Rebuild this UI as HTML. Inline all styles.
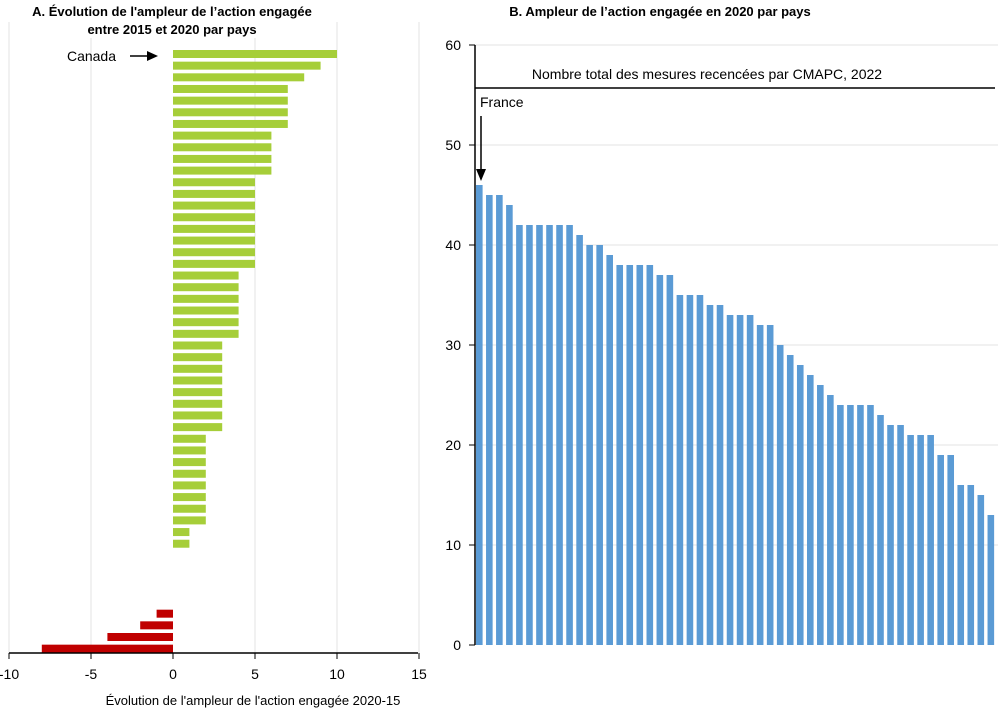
<!DOCTYPE html>
<html><head><meta charset="utf-8"><style>
body{margin:0;background:#fff;font-family:"Liberation Sans",sans-serif}
svg text{font-family:"Liberation Sans",sans-serif}
</style></head><body>
<svg id="c" width="1000" height="710" viewBox="0 0 1000 710">
<g id="ga"></g><g id="gb"></g>
<rect x="20" y="20" width="300" height="18" fill="#fff"/>
<text x="172" y="16" font-size="13" font-weight="bold" text-anchor="middle">A. Évolution de l'ampleur de l’action engagée</text>
<text x="172" y="34" font-size="13" font-weight="bold" text-anchor="middle">entre 2015 et 2020 par pays</text>
<text x="660" y="16" font-size="13" font-weight="bold" text-anchor="middle">B. Ampleur de l’action engagée en 2020 par pays</text>
<text x="253" y="705" font-size="13" text-anchor="middle">Évolution de l'ampleur de l'action engagée 2020-15</text>
<text x="116" y="61" font-size="14" text-anchor="end">Canada</text>
<line x1="130" y1="56" x2="150" y2="56" stroke="#000" stroke-width="1.5"/>
<polygon points="158,56 147,51 147,61" fill="#000"/>
<text x="707" y="79" font-size="14" text-anchor="middle">Nombre total des mesures recencées par CMAPC, 2022</text>
<text x="480" y="107" font-size="14">France</text>
<line x1="481" y1="116" x2="481" y2="170" stroke="#000" stroke-width="1.5"/>
<polygon points="481,181 476,169 486,169" fill="#000"/>
</svg>
<script>
const changesA=[10,9,8,7,7,7,7,6,6,6,6,5,5,5,5,5,5,5,5,4,4,4,4,4,4,3,3,3,3,3,3,3,3,2,2,2,2,2,2,2,2,1,1,0,0,0,0,0,-1,-2,-4,-8];
const ticksA=[-10,-5,0,5,10,15];
const valuesB=[46,45,45,44,42,42,42,42,42,42,41,40,40,39,38,38,38,38,37,37,35,35,35,34,34,33,33,33,32,32,30,29,28,27,26,25,24,24,24,24,23,22,22,21,21,21,19,19,16,16,15,13];
const ticksB=[0,10,20,30,40,50,60];
const refB=[55.7];
const NS="http://www.w3.org/2000/svg";
function mk(p,t,a){const e=document.createElementNS(NS,t);for(const k in a)e.setAttribute(k,a[k]);p.appendChild(e);return e;}
const ga=document.getElementById('ga'),gb=document.getElementById('gb');
const xA=v=>173+(v)*16.4;
const yA=i=>54+i*11.66;
ticksA.forEach(t=>{
 if(t!==0){const g=mk(ga,'line',{x1:xA(t),x2:xA(t),y1:22,y2:653,stroke:'#e3e3e3'});
 
 }
 const tk=mk(ga,'line',{x1:xA(t),x2:xA(t),y1:653,y2:659,stroke:'#000'});
 
 
 const tx=mk(ga,'text',{x:xA(t),y:679,'font-size':14,'text-anchor':'middle'});tx.textContent=t;
 
 
});
changesA.forEach((v,i)=>{
 if(v===0)return;
 const x0=Math.min(xA(0),xA(v)),w=Math.abs(xA(v)-xA(0));
 const r=mk(ga,'rect',{x:x0,y:yA(i)-4,width:w,height:8,fill:v>0?'#a6ce39':'#c00000'});
 
 
});
const ax=mk(ga,'line',{x1:9,x2:418,y1:653,y2:653,stroke:'#000','stroke-width':1.5});


const yB=v=>645-v*10;
const xB=i=>476+i*10.03;
ticksB.forEach(t=>{
 if(t>0){const g=mk(gb,'line',{x1:475,x2:998,y1:yB(t),y2:yB(t),stroke:'#e3e3e3'});
 
 }
 const tk=mk(gb,'line',{x1:469,x2:475,y1:yB(t),y2:yB(t),stroke:'#000'});
 
 
 const tx=mk(gb,'text',{x:461,y:yB(t)+5,'font-size':14,'text-anchor':'end'});tx.textContent=t;
 
 
});
valuesB.forEach((v,i)=>{
 const r=mk(gb,'rect',{x:xB(i),y:yB(v),width:6.6,height:v*10,fill:'#5b9bd5'});
 
 
});
const yax=mk(gb,'line',{x1:475,x2:475,y1:45,y2:645,stroke:'#000','stroke-width':1.5});


const rl=mk(gb,'line',{x1:475,x2:995,y1:yB(refB[0]),y2:yB(refB[0]),stroke:'#000','stroke-width':1.5});


</script>
</body></html>
